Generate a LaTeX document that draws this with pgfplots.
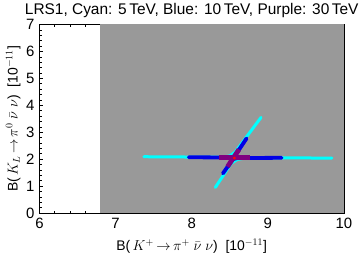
\documentclass[border=0pt]{standalone}
\usepackage{pgfplots}
\pgfplotsset{compat=1.18}
\usepackage{fontspec}
\setmainfont{Liberation Sans}
\definecolor{bggray}{RGB}{153,153,153}
\definecolor{mycyan}{RGB}{0,255,255}
\definecolor{myblue}{RGB}{0,0,230}
\definecolor{mypurple}{RGB}{128,0,128}
\begin{document}
\begin{tikzpicture}
\path[use as bounding box] (-39.5bp,-48bp) rectangle (320.5bp,213bp);
\begin{axis}[
  scale only axis,
  width=304.5bp, height=188.5bp,
  xmin=6, xmax=10, ymin=0, ymax=7,
  xtick={6,7,8,9,10}, ytick={0,1,2,3,4,5,6,7},
  minor x tick num=4, minor y tick num=4,
  tick align=inside,
  major tick length=4bp, minor tick length=2.5bp,
  tick style={black, line width=0.6pt},
  axis line style={black, line width=0.8pt},
  /pgf/number format/assume math mode=true,
  tick label style={font=\fontsize{15}{17}\selectfont},
  xticklabel style={yshift=-2bp},
  yticklabel style={xshift=-1.5bp},
  every axis title shift=0pt,
  title={LRS1, Cyan: 5\,TeV, Blue: 10\,TeV, Purple: 30\,TeV},
  title style={font=\fontsize{15.5}{17}\selectfont, at={(axis description cs:0.5,1)}, anchor=base, yshift=9.5bp},
  xlabel={B(\,$K^{+}\,{\rightarrow}\,\pi^{+}\ \bar{\nu}\ \nu$)\; [10$^{-11}$]},
  ylabel={B(\,$K_{L}\,{\rightarrow}\,\pi^{0}\ \bar{\nu}\ \nu$)\; [10$^{-11}$]},
  label style={font=\fontsize{14}{16}\selectfont},
  xlabel style={at={(axis description cs:0.5,-0.175)}, anchor=center},
  ylabel style={at={(axis description cs:-0.086,0.5)}, anchor=center},
  clip=true,
]
% gray allowed region
\addplot[fill=bggray, draw=none] coordinates {(6.8,0) (10,0) (10,7) (6.8,7)} -- cycle;
% 5 TeV (cyan)
\addplot[mycyan, line width=3.0bp, line cap=round] coordinates {(7.37,2.09) (8.40,2.07) (8.50,2.12) (8.57,2.26) (8.91,3.55)};
\addplot[mycyan, line width=3.0bp, line cap=round] coordinates {(8.31,0.95) (8.52,1.85) (8.60,1.99) (8.72,2.05) (9.84,2.04)};
% 10 TeV (blue)
\addplot[myblue, line width=3.8bp, line cap=round] coordinates {(7.96,2.07) (8.50,2.06) (8.56,2.09) (8.72,2.77)};
\addplot[myblue, line width=3.8bp, line cap=round] coordinates {(8.41,1.47) (8.54,2.00) (8.60,2.04) (9.18,2.05)};
% 30 TeV (purple)
\addplot[mypurple, line width=4.8bp] coordinates {(8.36,2.05) (8.77,2.05)};
\addplot[mypurple, line width=4.8bp] coordinates {(8.47,1.72) (8.62,2.36)};
% central point
\addplot[only marks, mark=*, mark size=1.2bp, red] coordinates {(8.56,2.04)};
\end{axis}
\end{tikzpicture}
\end{document}
